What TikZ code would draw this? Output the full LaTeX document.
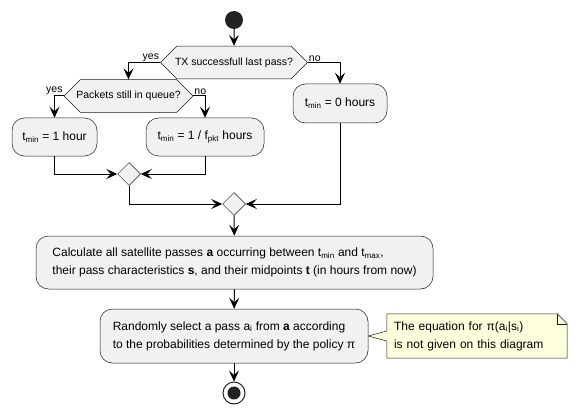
\documentclass[tikz,border=0pt]{standalone}
\usepackage{fontspec}
\setmainfont{Liberation Sans}
\usetikzlibrary{arrows.meta,shapes.geometric,shapes.misc,backgrounds}
\definecolor{boxfill}{HTML}{F1F1F1}
\definecolor{boxline}{HTML}{181818}
\definecolor{notefill}{HTML}{FEFFDD}
\definecolor{dotfill}{HTML}{222222}

\begin{document}
\begin{tikzpicture}[x=1pt,y=-1pt,
  action/.style={draw=boxline,line width=0.5pt,fill=boxfill,rounded corners=12.5pt,inner sep=0pt,minimum height=38pt,font=\fontsize{12}{18}\selectfont},
  choice/.style={chamfered rectangle,chamfered rectangle sep=11.5pt,draw=boxline,line width=0.5pt,fill=boxfill,inner sep=0pt,minimum height=23pt,font=\fontsize{10.5}{12}\selectfont},
  merge/.style={diamond,draw=boxline,line width=0.5pt,fill=boxfill,inner sep=0pt,minimum size=23pt},
  lbl/.style={font=\fontsize{10.5}{12}\selectfont,inner sep=1pt},
  flow/.style={line width=1pt,-{Stealth[length=11pt,width=10pt,inset=4.5pt]}}]
  \useasboundingbox (0,0) rectangle (577,414);

  \node[circle,fill=dotfill,minimum size=18pt,inner sep=0pt] (start) at (234,20) {};
  \node[choice,minimum width=147pt] (txok) at (234,62.5) {TX successfull last pass?};
  \node[choice,minimum width=129pt] (queue) at (128.5,96) {Packets still in queue?};
  \node[action,minimum width=85pt] (hour) at (54.5,137) {t\textsubscript{min} = 1 hour};
  \node[action,minimum width=118pt] (freq) at (205,137) {t\textsubscript{min} = 1 / f\textsubscript{pkt} hours};
  \node[action,minimum width=94pt,minimum height=39pt] (zero) at (340,103.5) {t\textsubscript{min} = 0 hours};
  \node[merge] (joinq) at (129,174) {};
  \node[merge] (jointx) at (234,204) {};
  \node[action,minimum width=397pt,minimum height=53pt,align=left] (passes) at (234.5,262.5) {Calculate all satellite passes \textbf{a} occurring between t\textsubscript{min} and t\textsubscript{max},\\their pass characteristics \textbf{s}, and their midpoints \textbf{t} (in hours from now)};
  \node[action,minimum width=268pt,minimum height=54pt,align=left] (select) at (234,336) {Randomly select a pass a\textsubscript{i} from \textbf{a} according\\to the probabilities determined by the policy π};
  \node[circle,draw=dotfill,line width=1pt,fill=white,minimum size=22pt,inner sep=0pt] (stop) at (234,393) {};
  \fill[dotfill] (stop.center) circle (6.5pt);
  \node[font=\fontsize{12}{18}\selectfont,text width=166pt,align=left,inner xsep=7pt,inner ysep=0pt,minimum height=44pt] (note) at (477,336) {The equation for π(a\textsubscript{i}|s\textsubscript{i})\\is not given on this diagram};

  \node[lbl,anchor=south east] (txyes) at (txok.west) {yes};
  \node[lbl,anchor=south west] (txno) at (txok.east) {no};
  \node[lbl,anchor=south east] (qyes) at (queue.west) {yes};
  \node[lbl,anchor=south west] (qno) at (queue.east) {no};

  \draw[flow] (start) -- (txok);
  \draw[flow] (txok.west) -| (queue.north);
  \draw[flow] (txok.east) -| (zero.north);
  \draw[flow] (queue.west) -| (hour.north);
  \draw[flow] (queue.east) -| (freq.north);
  \draw[flow] (hour.south) |- (joinq.west);
  \draw[flow] (freq.south) |- (joinq.east);
  \draw[flow] (joinq.south) |- (jointx.west);
  \draw[flow] (zero.south) |- (jointx.east);
  \draw[flow] (jointx) -- (passes);
  \draw[flow] (passes) -- (select);
  \draw[flow] (select) -- (stop);

  \begin{scope}[on background layer]
    \filldraw[draw=boxline,fill=notefill,line width=0.5pt] (note.south west) -- ([yshift=-5pt]note.west) -- (select.east) -- ([yshift=5pt]note.west) -- (note.north west) -- ([xshift=-10pt]note.north east) -- ([yshift=-10pt]note.north east) -- (note.south east) -- cycle;
    \draw[boxline,line width=0.5pt] ([xshift=-10pt]note.north east) |- ([yshift=-10pt]note.north east);
  \end{scope}
\end{tikzpicture}
\end{document}
